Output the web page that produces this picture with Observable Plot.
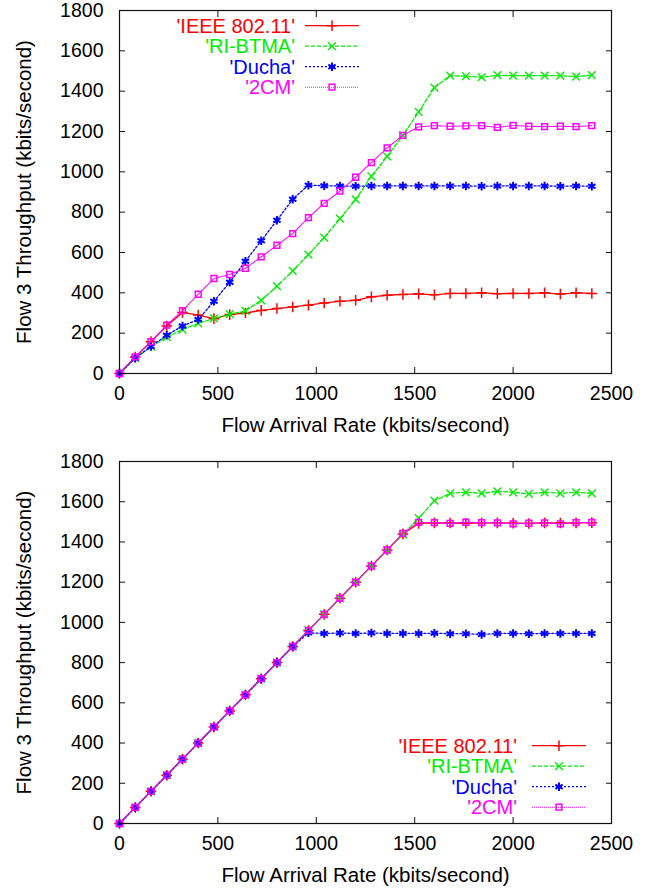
<!DOCTYPE html>
<html><head><meta charset="utf-8">
<script src="https://cdn.jsdelivr.net/npm/d3@7"></script>
<script src="https://cdn.jsdelivr.net/npm/@observablehq/plot@0.6"></script>
<style>
body{margin:0;background:#fff}
#chart svg{display:block}
</style>
</head><body><div id="chart"></div>
<script>
// ---- data ----
const rate = [0,80,160,240,320,400,480,560,640,720,800,880,960,1040,1120,1200,1280,1360,1440,1520,1600,1680,1760,1840,1920,2000,2080,2160,2240,2320,2400];
const seriesNames = ["'IEEE 802.11'","'RI-BTMA'","'Ducha'","'2CM'"];
const xTicks = [0,500,1000,1500,2000,2500];
const yTicks = [0,200,400,600,800,1000,1200,1400,1600,1800];
const xTitle = "Flow Arrival Rate (kbits/second)";
const yTitle = "Flow 3 Throughput (kbits/second)";

// top panel
const topIeee   = [0,82,158,235,303,290,272,292,300,313,322,330,339,350,358,363,380,388,392,395,390,397,397,400,396,397,397,400,394,400,397];
const topRibtma = [0,76,134,180,218,248,273,294,310,363,433,509,590,674,768,863,978,1077,1181,1297,1418,1477,1474,1469,1479,1477,1477,1477,1477,1472,1480];
const topDucha  = [0,76,134,190,235,268,358,453,557,658,760,864,934,931,930,929,930,930,930,930,930,930,930,929,930,930,930,930,929,930,929];
const top2cm    = [0,82,158,240,312,393,471,491,522,578,636,694,773,844,904,973,1046,1119,1181,1223,1229,1226,1228,1229,1220,1230,1226,1224,1226,1224,1229];

// bottom panel
const botIeee   = [0,80,160,240,320,400,480,560,640,720,800,880,960,1040,1120,1200,1280,1360,1440,1492,1495,1494,1493,1495,1495,1493,1492,1495,1494,1495,1496];
const botRibtma = [0,80,160,240,320,400,480,560,640,720,800,880,960,1040,1120,1200,1280,1360,1437,1518,1605,1642,1647,1642,1652,1647,1639,1647,1642,1647,1642];
const botDucha  = [0,80,160,240,320,400,480,560,640,720,800,880,948,945,947,945,947,945,945,945,946,944,944,940,945,945,944,945,945,945,945];
const bot2cm    = [0,80,160,240,320,400,480,560,640,720,800,880,960,1040,1120,1200,1280,1360,1443,1497,1496,1492,1498,1496,1495,1490,1493,1495,1490,1496,1497];

// ---- styles ----
const styles = [
  {color:"#ff0000", dash:null,  symbol:"plus",     d3sym:d3.symbolPlus,     r:3.5, sw:1.5},
  {color:"#00ee00", dash:"4,2", symbol:"times",    d3sym:d3.symbolTimes,    r:3.6, sw:1.4},
  {color:"#0000ff", dash:"2,2", symbol:"asterisk", d3sym:d3.symbolAsterisk, r:4,   sw:2},
  {color:"#ff00ff", dash:"1,1", symbol:"square2",  d3sym:d3.symbolSquare2,  r:3.7, sw:1.5}
];
const FONT = "'Liberation Sans', Arial, Helvetica, sans-serif";
const fmt = d3.format("d");

function panel(seriesVals, m, legend) {
  const marks = [];
  seriesVals.forEach((vals, i) => {
    const s = styles[i];
    const data = rate.map((x, j) => ({x, y: vals[j]}));
    marks.push(Plot.line(data, {x:"x", y:"y", stroke:s.color, strokeWidth: i===3?1.1:1.3, strokeDasharray:s.dash}));
    marks.push(Plot.dot(data, {x:"x", y:"y", symbol:s.symbol, r:s.r, stroke:s.color, strokeWidth:s.sw, fill:"none"}));
  });
  marks.push(Plot.frame({stroke:"#111", strokeWidth:1.2}));
  marks.push(Plot.axisX({anchor:"bottom", ticks:xTicks, tickFormat:fmt, tickSize:-6, tickPadding:19, fontSize:19.5, label:null, stroke:"#111"}));
  marks.push(Plot.axisX({anchor:"top", ticks:xTicks, tickSize:-6, tickFormat:()=>"", label:null, stroke:"#111"}));
  marks.push(Plot.axisY({anchor:"left", ticks:yTicks, tickFormat:fmt, tickSize:-6, tickPadding:22, fontSize:19.5, label:null, stroke:"#111"}));
  marks.push(Plot.axisY({anchor:"right", ticks:yTicks, tickSize:-6, tickFormat:()=>"", label:null, stroke:"#111"}));
  marks.push(Plot.text([xTitle], {frameAnchor:"bottom", dy:52, fontSize:20.5, fill:"#000", textAnchor:"middle", lineAnchor:"middle"}));
  marks.push(Plot.text([yTitle], {frameAnchor:"left", dx:-95, rotate:-90, fontSize:20.5, fill:"#000", textAnchor:"middle", lineAnchor:"middle"}));

  const svg = Plot.plot({
    width:665, height:445,
    marginLeft:m.left, marginRight:m.right, marginTop:m.top, marginBottom:m.bottom,
    x:{domain:[0,2500], label:null},
    y:{domain:[0,1800], label:null},
    style:{fontFamily:FONT, color:"#000", background:"#fff", overflow:"visible"},
    marks
  });

  // legend (inside plot frame)
  const g = d3.select(svg).append("g").attr("font-family", FONT).attr("font-size", 20);
  const fl = m.left, fr = 665 - m.right, ft = m.top, fb = 445 - m.bottom;
  const textRight = legend.side === "left" ? fl + 176 : fr - 94;
  const lx1 = legend.side === "left" ? fl + 186 : fr - 79;
  const lx2 = lx1 + 54;
  const mx = lx1 + 27;
  seriesNames.forEach((name, i) => {
    const s = styles[i];
    const y = legend.side === "left" ? ft + 15.7 + i*20.5 : fb - 77.3 + i*20.5;
    g.append("text").attr("x", textRight).attr("y", y).attr("dy","0.35em")
      .attr("text-anchor","end").attr("fill", s.color).text(name);
    g.append("line").attr("x1", lx1).attr("x2", lx2).attr("y1", y).attr("y2", y)
      .attr("stroke", s.color).attr("stroke-width", i===3?1.1:1.3)
      .attr("stroke-dasharray", s.dash);
    g.append("path").attr("transform", `translate(${mx},${y})`)
      .attr("d", d3.symbol(s.d3sym, Math.PI*s.r*s.r)())
      .attr("fill","none").attr("stroke", s.color).attr("stroke-width", s.sw);
  });
  return svg;
}

const root = document.getElementById("chart");
root.appendChild(panel([topIeee, topRibtma, topDucha, top2cm], {left:119, right:54, top:10, bottom:72}, {side:"left"}));
root.appendChild(panel([botIeee, botRibtma, botDucha, bot2cm], {left:119, right:54, top:16, bottom:67}, {side:"right"}));
</script>
</body></html>
